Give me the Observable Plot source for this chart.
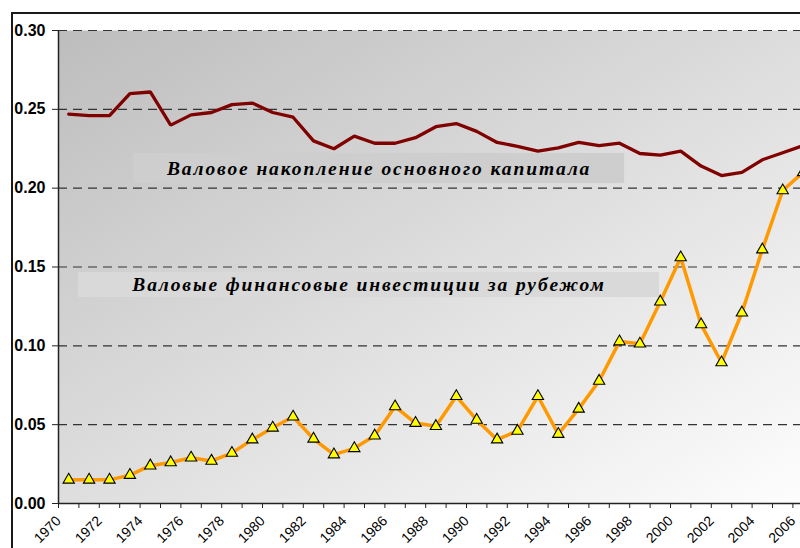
<!DOCTYPE html>
<html><head><meta charset="utf-8">
<script src="https://cdn.jsdelivr.net/npm/d3@7"></script>
<script src="https://cdn.jsdelivr.net/npm/@observablehq/plot@0.6"></script>
<style>
html,body{margin:0;padding:0;background:#fff;overflow:hidden;width:800px;height:548px}
#frame{position:absolute;left:11px;top:12px;width:2000px;height:2000px;border:2px solid #1a1a1a;box-sizing:border-box}
#chart{position:absolute;left:0;top:0}
</style></head><body><div id="frame"></div><div id="chart"></div>
<script>
// ---- data ----
const years = d3.range(1970, 2007);
const capital = [0.247, 0.246, 0.246, 0.260, 0.261, 0.240, 0.2465, 0.248, 0.253, 0.254,
  0.248, 0.245, 0.230, 0.225, 0.233, 0.2285, 0.2285, 0.232, 0.239, 0.241,
  0.236, 0.229, 0.2265, 0.2235, 0.2255, 0.229, 0.227, 0.2285, 0.222, 0.221,
  0.2235, 0.214, 0.208, 0.210, 0.218, 0.2225, 0.227];
const foreign = [0.015, 0.015, 0.015, 0.018, 0.024, 0.026, 0.029, 0.027, 0.032, 0.0405,
  0.048, 0.055, 0.041, 0.031, 0.035, 0.043, 0.0615, 0.051, 0.049, 0.068,
  0.053, 0.0405, 0.046, 0.068, 0.044, 0.060, 0.0777, 0.1027, 0.1013, 0.128,
  0.156, 0.1135, 0.0894, 0.121, 0.161, 0.1985, 0.210];
const yTicks = [0, 0.05, 0.10, 0.15, 0.20, 0.25, 0.30];
const labelYears = years.filter(y => y % 2 === 0);
const seriesLabels = ["Валовое накопление основного капитала", "Валовые финансовые инвестиции за рубежом"];

// ---- layout ----
const W = 840, H = 548, ML = 58, MT = 30, MB = 45;
const step = 20.4; // px per year category
const x0 = years[0] - 0.5;
const xDomain = [x0, x0 + (W - ML) / step];
const boundaries = d3.range(years[0] - 0.5, years[years.length - 1] + 1, 1);

const capData = years.map((y, i) => ({year: y, v: capital[i]}));
const forData = years.map((y, i) => ({year: y, v: foreign[i]}));
const annots = [
  {label: seriesLabels[0], x1: 1973.18, x2: 1997.25, y1: 0.2029, y2: 0.222, fill: "#cecece"},
  {label: seriesLabels[1], x1: 1970.48, x2: 1998.96, y1: 0.1306, y2: 0.1465, fill: "#d9d9d9"}
];

const svg = Plot.plot({
  width: W, height: H, marginLeft: ML, marginRight: 0, marginTop: MT, marginBottom: MB,
  style: {background: "transparent", overflow: "visible", maxWidth: "none", fontFamily: "Liberation Sans, Arial, sans-serif"},
  x: {domain: xDomain},
  y: {domain: [0, 0.30]},
  marks: [
    Plot.frame({fill: "url(#bgGrad)", stroke: null}),
    Plot.ruleY(yTicks.slice(1), {stroke: "#333", strokeWidth: 1.2, strokeDasharray: "9,6"}),
    Plot.rect(annots, {x1: "x1", x2: "x2", y1: "y1", y2: "y2", fill: "fill"}),
    Plot.text(annots, {x: d => (d.x1 + d.x2) / 2, y: d => (d.y1 + d.y2) / 2, text: "label",
      fontFamily: "Liberation Serif, Times New Roman, serif", fontStyle: "italic", fontWeight: "bold",
      fontSize: 19.5, fill: "#000"}),
    Plot.line(capData, {x: "year", y: "v", stroke: "#800000", strokeWidth: 3.3, strokeLinejoin: "miter"}),
    Plot.line(forData, {x: "year", y: "v", stroke: "#ff9900", strokeWidth: 3.5}),
    Plot.dot(forData, {x: "year", y: "v", symbol: "triangle", r: 4.2, fill: "#ffff00", stroke: "#000", strokeWidth: 1.1}),
    Plot.ruleX([x0], {stroke: "#222", strokeWidth: 1.5}),
    Plot.ruleY([0], {stroke: "#222", strokeWidth: 1.5}),
    Plot.axisY({ticks: yTicks, tickFormat: d3.format(".2f"), tickSize: 6, tickPadding: 7,
      fontSize: 16, fontWeight: "bold", fill: "#000", stroke: "#222", label: null}),
    Plot.axisX({ticks: boundaries, tickSize: 5, text: null, stroke: "#222", label: null}),
    Plot.axisX({ticks: labelYears, tickSize: 0, tickRotate: -45, tickPadding: 15,
      tickFormat: d => String(d), fontSize: 14, fill: "#000", dx: -10, label: null})
  ]
});

const defs = d3.select(svg).insert("defs", ":first-child");
const grad = defs.append("linearGradient").attr("id", "bgGrad")
  .attr("x1", 0).attr("y1", 0).attr("x2", 1).attr("y2", 1);
grad.append("stop").attr("offset", "0%").attr("stop-color", "#bdbdbd");
grad.append("stop").attr("offset", "100%").attr("stop-color", "#ffffff");
d3.select(svg).selectAll('g[aria-label="text"] text').style("letter-spacing", "1.9px");

document.getElementById("chart").appendChild(svg);
</script></body></html>
